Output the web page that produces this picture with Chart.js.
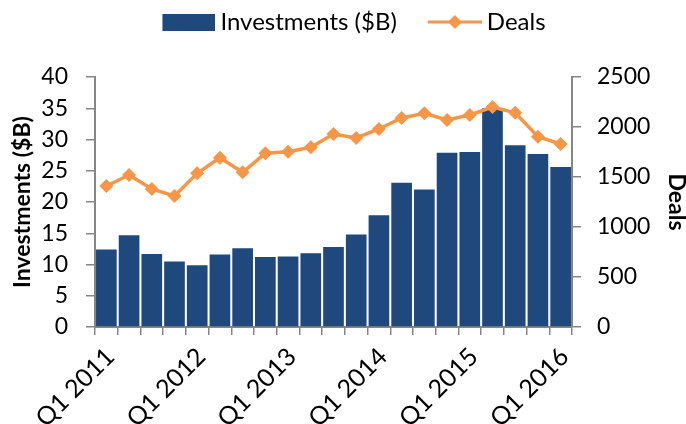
<!DOCTYPE html>
<html>
<head>
<meta charset="utf-8">
<script src="https://cdn.jsdelivr.net/npm/chart.js@4/dist/chart.umd.min.js"></script>
<style>
  html, body { margin: 0; padding: 0; background: #fff; }
  #wrap { width: 686px; height: 424px; }
</style>
</head>
<body>
<div id="wrap"><canvas id="chart" width="686" height="424"></canvas></div>
<script>
const quarters = [
  'Q1 2011', 'Q2 2011', 'Q3 2011', 'Q4 2011',
  'Q1 2012', 'Q2 2012', 'Q3 2012', 'Q4 2012',
  'Q1 2013', 'Q2 2013', 'Q3 2013', 'Q4 2013',
  'Q1 2014', 'Q2 2014', 'Q3 2014', 'Q4 2014',
  'Q1 2015', 'Q2 2015', 'Q3 2015', 'Q4 2015',
  'Q1 2016'
]
const investments = [
  12.4, 14.7, 11.7, 10.5, 9.9, 11.6, 12.6, 11.2, 11.3, 11.8, 12.8,
  14.8, 17.9, 23.1, 22.0, 27.9, 28.0, 35.0, 29.1, 27.7, 25.6
]
const deals = [
  1410, 1520, 1380, 1310, 1537, 1693, 1547, 1737, 1753, 1797, 1930,
  1890, 1980, 2090, 2137, 2070, 2120, 2200, 2143, 1903, 1830
]
const leftTicks = { min: 0, max: 40, step: 5 }
const rightTicks = { min: 0, max: 2500, step: 500 }

const blue = '#1F497D'
const orange = '#F79646'
const axisGray = '#868686'
const fontFamily = 'Lato, "Open Sans", sans-serif'

// legend swatches: drawn into small canvases so the built-in legend can use them
function swatch(kind) {
  const c = document.createElement('canvas')
  c.width = 82
  c.height = 20
  const g = c.getContext('2d')
  if (kind === 'bar') {
    g.fillStyle = blue
    g.fillRect(29, 2, 53, 17)
  } else {
    g.strokeStyle = orange
    g.lineWidth = 3
    g.beginPath()
    g.moveTo(28, 10)
    g.lineTo(82, 10)
    g.stroke()
    g.fillStyle = orange
    g.beginPath()
    g.moveTo(55, 3)
    g.lineTo(62, 10)
    g.lineTo(55, 17)
    g.lineTo(48, 10)
    g.closePath()
    g.fill()
  }
  return c
}
const swatches = [swatch('bar'), swatch('line')]

const legendHeight = {
  id: 'legendHeight',
  beforeInit(chart) {
    const fit = chart.legend.fit
    chart.legend.fit = function () {
      fit.call(this)
      this.height = 77
    }
  }
}

const outerGrid = {
  drawOnChartArea: false,
  drawTicks: true,
  tickLength: 9,
  color: axisGray,
  lineWidth: 1.5
}

new Chart(document.getElementById('chart'), {
  type: 'bar',
  data: {
    labels: quarters,
    datasets: [
      {
        label: 'Investments ($B)',
        data: investments,
        backgroundColor: blue,
        borderWidth: 0,
        barPercentage: 1,
        categoryPercentage: 0.91,
        yAxisID: 'y',
        order: 2
      },
      {
        type: 'line',
        label: 'Deals',
        data: deals,
        borderColor: orange,
        backgroundColor: orange,
        borderWidth: 3.5,
        tension: 0,
        pointStyle: 'rectRot',
        pointRadius: 7,
        pointBorderWidth: 0,
        pointBackgroundColor: orange,
        yAxisID: 'y1',
        order: 1
      }
    ]
  },
  options: {
    responsive: false,
    animation: false,
    layout: { padding: 0 },
    plugins: {
      legend: {
        position: 'top',
        labels: {
          usePointStyle: true,
          pointStyleWidth: 68,
          padding: 10,
          color: '#000',
          font: { family: fontFamily, size: 24 },
          generateLabels(chart) {
            return chart.data.datasets.map((ds, i) => ({
              text: ds.label,
              pointStyle: swatches[i],
              fillStyle: ds.backgroundColor,
              strokeStyle: ds.borderColor,
              lineWidth: 0,
              hidden: false,
              datasetIndex: i,
              fontColor: '#000'
            }))
          }
        }
      },
      tooltip: { enabled: false }
    },
    scales: {
      x: {
        grid: { ...outerGrid, offset: true, tickLength: 8 },
        border: { color: axisGray, width: 2 },
        ticks: {
          autoSkip: false,
          maxRotation: 45,
          minRotation: 45,
          padding: 7,
          labelOffset: 4,
          color: '#000',
          font: { family: fontFamily, size: 25 },
          callback: (value, index) => (index % 4 === 0 ? quarters[index] : '')
        },
        afterFit(scale) { scale.height = 97 }
      },
      y: {
        position: 'left',
        min: leftTicks.min,
        max: leftTicks.max,
        grid: outerGrid,
        border: { color: axisGray, width: 2 },
        ticks: {
          stepSize: leftTicks.step,
          padding: 18,
          color: '#000',
          font: { family: fontFamily, size: 23 }
        },
        title: {
          display: true,
          text: 'Investments ($B)',
          color: '#000',
          padding: { top: 9, bottom: 0 },
          font: { family: fontFamily, size: 23, weight: 'bold' }
        },
        afterFit(scale) { scale.width = 95 }
      },
      y1: {
        position: 'right',
        min: rightTicks.min,
        max: rightTicks.max,
        grid: outerGrid,
        border: { color: axisGray, width: 2 },
        ticks: {
          stepSize: rightTicks.step,
          padding: 16,
          color: '#000',
          font: { family: fontFamily, size: 23 },
          callback: (value) => String(value)
        },
        title: {
          display: true,
          text: 'Deals',
          color: '#000',
          padding: { top: 0, bottom: 0 },
          font: { family: fontFamily, size: 23, weight: 'bold', lineHeight: 0.8 }
        },
        afterFit(scale) { scale.width = 114 }
      }
    }
  },
  plugins: [legendHeight]
})
</script>
</body>
</html>
